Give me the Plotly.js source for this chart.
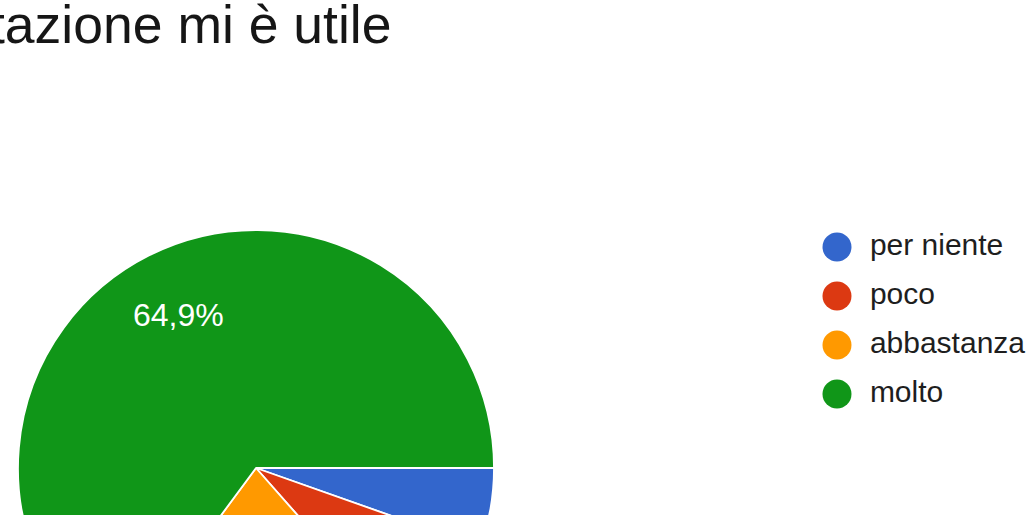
<!DOCTYPE html>
<html>
<head>
<meta charset="utf-8">
<script src="https://cdn.plot.ly/plotly-3.0.1.min.js"></script>
<style>
  html, body { margin: 0; padding: 0; overflow: hidden; background: #ffffff; width: 1034px; height: 515px; }
  #chart { position: absolute; left: -300px; top: 0; width: 1334px; height: 1000px; }
</style>
</head>
<body>
<div id="chart"></div>
<script>
// ---- data ----
const categories = ['per niente', 'poco', 'abbastanza', 'molto'];
const counts = [2, 3, 8, 24];
const colors = ['#3366cc', '#dc3912', '#ff9900', '#109618'];
const titleText = 'tazione mi è utile';

// ---- layout geometry (div is wider/taller than the window; the window crops it) ----
const W = 1334, H = 1000, SHIFT = 300;
const R = 238;                 // pie radius in px
const CX = 256 + SHIFT, CY = 468; // pie centre in div px
const ROT = 90;                // first slice starts at 3 o'clock

const pieDomain = {
  x: [(CX - R) / W, (CX + R) / W],
  y: [1 - (CY + R) / H, 1 - (CY - R) / H]
};

const total = counts.reduce((a, b) => a + b, 0);
const fmtPct = v => (100 * v / total).toFixed(1).replace('.', ',') + '%';

// slice labels, placed along each slice bisector (Google-style)
const annotations = [];
let cum = 0;
counts.forEach((v, i) => {
  const frac = v / total;
  const mid = cum + frac / 2;
  cum += frac;
  if (frac < 0.07) return;
  const ang = (ROT + mid * 360) * Math.PI / 180;
  const rr = 0.72 * R;
  annotations.push({
    xref: 'paper', yref: 'paper',
    x: (CX + rr * Math.sin(ang)) / W,
    y: 1 - (CY - rr * Math.cos(ang)) / H,
    text: fmtPct(v),
    showarrow: false,
    xanchor: 'center', yanchor: 'middle',
    font: { family: 'Liberation Sans, Arial, sans-serif', size: 32, color: '#ffffff' }
  });
});

const pie = {
  type: 'pie',
  labels: categories,
  values: counts,
  sort: false,
  direction: 'clockwise',
  rotation: ROT,
  marker: { colors: colors, line: { color: '#ffffff', width: 1.8 } },
  textinfo: 'none',
  hoverinfo: 'label+percent',
  domain: pieDomain,
  showlegend: false
};

// custom legend: round markers ...
const legendMarkers = {
  type: 'scatter',
  mode: 'markers',
  x: categories.map(() => 0),
  y: categories,
  marker: { size: 29, color: colors, line: { width: 0 } },
  cliponaxis: false,
  hoverinfo: 'skip',
  showlegend: false
};
// ... and their labels
const legendLabels = {
  type: 'scatter',
  mode: 'markers+text',
  x: categories.map(() => 0),
  y: categories,
  text: categories,
  textposition: 'middle right',
  textfont: { family: 'Liberation Sans, Arial, sans-serif', size: 30, color: '#1e1e1e' },
  marker: { size: 51, color: 'rgba(0,0,0,0)', line: { width: 0 } },
  cliponaxis: false,
  hoverinfo: 'skip',
  showlegend: false
};

const layout = {
  width: W, height: H,
  margin: { l: 0, r: 0, t: 0, b: 0, pad: 0 },
  paper_bgcolor: '#ffffff',
  plot_bgcolor: 'rgba(0,0,0,0)',
  showlegend: false,
  title: {
    text: titleText,
    font: { family: 'Liberation Sans, Arial, sans-serif', size: 53.5, color: '#161616' },
    xref: 'container', yref: 'container',
    x: (SHIFT - 10) / W, xanchor: 'left',
    y: 1 - 24 / H, yanchor: 'middle'
  },
  xaxis: {
    domain: [(837 + SHIFT) / W, (1034 + SHIFT - 20) / W],
    range: [0, 1], visible: false, fixedrange: true
  },
  yaxis: {
    type: 'category',
    domain: [1 - (394 + 24.5) / H, 1 - (247 - 24.5) / H],
    range: [3.5, -0.5], visible: false, fixedrange: true
  },
  annotations: annotations
};

Plotly.newPlot('chart', [pie, legendMarkers, legendLabels], layout, { displayModeBar: false, staticPlot: true });
</script>
</body>
</html>
